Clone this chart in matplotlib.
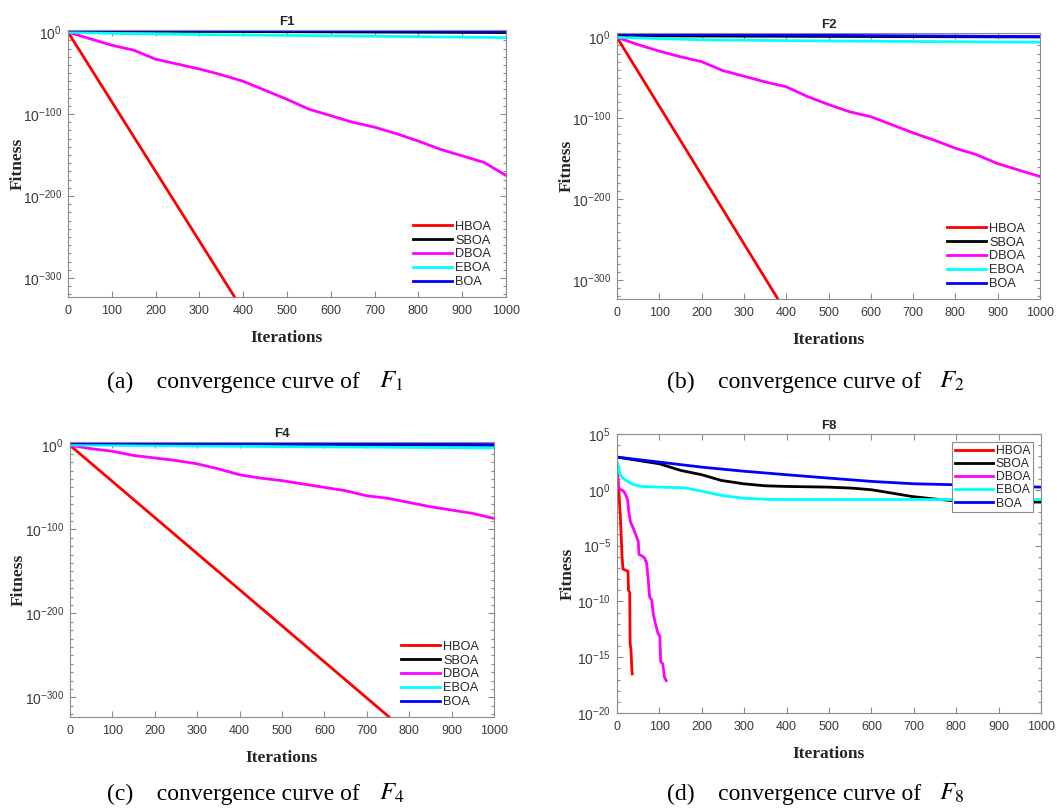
import numpy as np
import matplotlib
matplotlib.use("Agg")
import matplotlib.pyplot as plt
from matplotlib.ticker import FixedLocator, NullFormatter, LogFormatterSciNotation

plt.rcParams["font.family"] = ["Liberation Sans", "DejaVu Sans"]
plt.rcParams["mathtext.fontset"] = "custom"
plt.rcParams["mathtext.rm"] = "Liberation Sans"
plt.rcParams["mathtext.it"] = "Liberation Sans:italic"
plt.rcParams["axes.unicode_minus"] = False

# ── Convergence data (log10 of best fitness per iteration) ─────────────────
ALGOS  = ["HBOA", "SBOA", "DBOA", "EBOA", "BOA"]
COLORS = ["#ff0000", "#000000", "#ff00ff", "#00ffff", "#0000ff"]

# F1
f1_hboa_it = [0, 380]
f1_hboa    = [0, -323]
f1_sboa_it = [0, 500, 1000]
f1_sboa    = [1.5, 0.5, -0.5]
f1_dboa_it = [0, 50, 100, 150, 200, 250, 300, 350, 400, 450, 500,
              550, 600, 650, 700, 750, 800, 850, 900, 950, 1000]
f1_dboa    = [0, -8, -16, -22, -33, -39, -45, -52, -60, -71, -82,
              -94, -102, -110, -116, -124, -133, -143, -151, -159, -175]
f1_eboa_it = [0, 100, 300, 500, 700, 1000]
f1_eboa    = [0, -1.5, -3, -4, -5, -6.7]
f1_boa_it  = [0, 500, 1000]
f1_boa     = [2.4, 1.6, 0.8]

# F2
f2_hboa_it = [0, 380]
f2_hboa    = [0, -323]
f2_sboa_it = [0, 500, 1000]
f2_sboa    = [2, 1.2, 0.5]
f2_dboa_it = [0, 50, 100, 150, 200, 250, 300, 350, 400, 450, 500,
              550, 600, 650, 700, 750, 800, 850, 900, 950, 1000]
f2_dboa    = [0, -9, -17, -24, -30, -41, -48, -55, -61, -73, -83,
              -92, -98, -108, -118, -127, -137, -145, -156, -164, -172]
f2_eboa_it = [0, 200, 500, 1000]
f2_eboa    = [0, -3, -4.5, -6]
f2_boa_it  = [0, 500, 1000]
f2_boa     = [4, 2.5, 1]

# F4
f4_hboa_it = [0, 752]
f4_hboa    = [0, -323]
f4_sboa_it = [0, 500, 1000]
f4_sboa    = [2, 1, 0]
f4_dboa_it = [0, 50, 100, 150, 200, 250, 300, 350, 400, 450, 500,
              550, 600, 650, 700, 750, 800, 850, 900, 950, 1000]
f4_dboa    = [0, -4, -7, -12, -15, -18, -22, -28, -35, -39, -42,
              -46, -50, -54, -60, -63, -68, -73, -77, -81, -87]
f4_eboa_it = [0, 500, 1000]
f4_eboa    = [0.5, -1.5, -3]
f4_boa_it  = [0, 500, 1000]
f4_boa     = [3, 2, 1]

# F8
f8_hboa_it = [0, 2, 5, 8, 12, 14, 20, 26, 27, 30, 31, 33, 35, 36]
f8_hboa    = [2.3, 1.0, -0.5, -2.5, -6.0, -7.1, -7.2, -7.3, -9.0, -9.2,
              -13.8, -14.3, -16.0, -16.5]
f8_sboa_it = [0, 100, 151, 200, 246, 298, 349, 400, 499, 554, 601,
              649, 696, 743, 799, 901, 1000]
f8_sboa    = [2.93, 2.33, 1.73, 1.35, 0.84, 0.54, 0.36, 0.30, 0.24, 0.15,
              0.0, -0.3, -0.6, -0.8, -1.0, -1.1, -1.1]
f8_dboa_it = [0, 3, 6, 10, 15, 20, 25, 28, 32, 38, 45, 50, 52, 58, 65,
              70, 73, 77, 82, 86, 92, 97, 101, 103, 108, 112, 116]
f8_dboa    = [2.2, 0.4, 0.1, 0.0, -0.1, -0.4, -0.9, -2.0, -2.9, -3.4,
              -4.1, -4.6, -5.8, -5.9, -6.1, -6.6, -7.8, -9.6, -9.9, -11.2,
              -12.2, -12.9, -13.1, -15.4, -15.6, -16.8, -17.1]
f8_eboa_it = [0, 3, 6, 10, 16, 25, 40, 60, 100, 159, 200, 246, 298, 350, 400, 1000]
f8_eboa    = [2.5, 2.2, 1.5, 1.2, 1.0, 0.75, 0.45, 0.3, 0.24, 0.18,
              -0.12, -0.5, -0.75, -0.85, -0.87, -0.87]
f8_boa_it  = [0, 100, 200, 298, 400, 499, 601, 700, 799, 901, 1000]
f8_boa     = [2.93, 2.48, 2.03, 1.67, 1.35, 1.05, 0.75, 0.54, 0.45, 0.33, 0.24]

x_ticks = [0, 100, 200, 300, 400, 500, 600, 700, 800, 900, 1000]

# ── Figure ─────────────────────────────────────────────────────────────────
W, H = 1057, 810
fig = plt.figure(figsize=(W / 100, H / 100), dpi=100)
fig.patch.set_facecolor("white")

AX_GREY  = "#8c8c8c"
TXT_GREY = "#3a3a3a"


def px_axes(left, top, right, bottom):
    return fig.add_axes([left / W, 1 - bottom / H, (right - left) / W, (bottom - top) / H])


def draw_panel(ax, title, series, ylim, major, minor, framed, ylab_off):
    for (it, vals), name, col in zip(series, ALGOS, COLORS):
        ax.plot(it, np.power(10.0, np.array(vals, dtype=float)), color=col, lw=2.0, label=name)
    ax.set_yscale("log")
    ax.set_xlim(0, 1000)
    ax.set_ylim(*ylim)
    ax.xaxis.set_major_locator(FixedLocator(x_ticks))
    ax.yaxis.set_major_locator(FixedLocator(major))
    ax.yaxis.set_minor_locator(FixedLocator(minor))
    ax.yaxis.set_major_formatter(LogFormatterSciNotation())
    ax.yaxis.set_minor_formatter(NullFormatter())
    ax.tick_params(which="both", direction="in", top=True, right=True,
                   colors=AX_GREY, labelcolor=TXT_GREY, width=0.8)
    ax.tick_params(which="major", length=4)
    ax.tick_params(which="minor", length=2)
    ax.tick_params(axis="y", pad=4.3, labelsize=10)
    ax.tick_params(axis="x", pad=5.5, labelsize=9)
    for sp in ax.spines.values():
        sp.set_color(AX_GREY)
        sp.set_linewidth(0.8)
    ax.set_title(title, fontsize=9.5, fontweight="bold", color="#262626", pad=3.5)
    ax.set_xlabel("Iterations", family="Liberation Serif", fontweight="bold",
                  fontsize=12.5, color="#262626")
    ax.set_ylabel("Fitness", family="Liberation Serif", fontweight="bold",
                  fontsize=12.5, color="#262626")
    ax.xaxis.label.set_va("center")
    ax.yaxis.label.set_va("center")
    h_px = ax.get_position().height * H
    w_px = ax.get_position().width * W
    ax.xaxis.set_label_coords(0.5, -41 / h_px)
    ax.yaxis.set_label_coords(-ylab_off / w_px, 0.5)
    if framed:
        leg = ax.legend(loc="upper right", frameon=True, fancybox=False, fontsize=8.7,
                        handlelength=3.15, handletextpad=0.25, labelspacing=0.1,
                        borderpad=0.2, borderaxespad=0.7)
        leg.get_frame().set_edgecolor(AX_GREY)
        leg.get_frame().set_linewidth(0.8)
        leg.get_frame().set_alpha(1.0)
    else:
        leg = ax.legend(loc="lower right", bbox_to_anchor=(1.0, -6 / h_px),
                        frameon=False, fontsize=9.2, handlelength=3.1,
                        handletextpad=0.23, labelspacing=0.15,
                        borderpad=0.3, borderaxespad=0.85)
    for t in leg.get_texts():
        t.set_color("#262626")


deep_major = [1e-300, 1e-200, 1e-100, 1e0]
deep_minor = [10.0 ** e for e in range(-320, 1, 10)]

ax_a = px_axes(68, 30, 506, 297)
draw_panel(ax_a, "F1",
           [(f1_hboa_it, f1_hboa), (f1_sboa_it, f1_sboa), (f1_dboa_it, f1_dboa),
            (f1_eboa_it, f1_eboa), (f1_boa_it, f1_boa)],
           (5e-324, 10.0 ** 2.6), deep_major, deep_minor, False, 50)

ax_b = px_axes(617, 33, 1040, 299)
draw_panel(ax_b, "F2",
           [(f2_hboa_it, f2_hboa), (f2_sboa_it, f2_sboa), (f2_dboa_it, f2_dboa),
            (f2_eboa_it, f2_eboa), (f2_boa_it, f2_boa)],
           (5e-324, 10.0 ** 5.4), deep_major, deep_minor, False, 50)

ax_c = px_axes(70, 442, 494, 717)
draw_panel(ax_c, "F4",
           [(f4_hboa_it, f4_hboa), (f4_sboa_it, f4_sboa), (f4_dboa_it, f4_dboa),
            (f4_eboa_it, f4_eboa), (f4_boa_it, f4_boa)],
           (5e-324, 10.0 ** 4), deep_major, deep_minor, False, 51)

ax_d = px_axes(617, 434, 1041, 713)
draw_panel(ax_d, "F8",
           [(f8_hboa_it, f8_hboa), (f8_sboa_it, f8_sboa), (f8_dboa_it, f8_dboa),
            (f8_eboa_it, f8_eboa), (f8_boa_it, f8_boa)],
           (1e-20, 1e5), [10.0 ** e for e in range(-20, 6, 5)],
           [10.0 ** e for e in range(-20, 6)], True, 49)

# ── Sub-figure captions ────────────────────────────────────────────────────
captions = [("(a)", "F_1", 107, 388), ("(b)", "F_2", 667, 388),
            ("(c)", "F_4", 107, 800), ("(d)", "F_8", 667, 800)]
for tag, fn, cx, cy in captions:
    fig.text(cx / W, 1 - cy / H, f"{tag}    convergence curve of",
             family="Liberation Serif", fontsize=17,
             ha="left", va="baseline", color="black")
    fig.text((cx + 272) / W, 1 - cy / H, f"${fn}$", fontsize=18,
             math_fontfamily="stix", ha="left", va="baseline", color="black")

fig.savefig("out.png", dpi=100)
